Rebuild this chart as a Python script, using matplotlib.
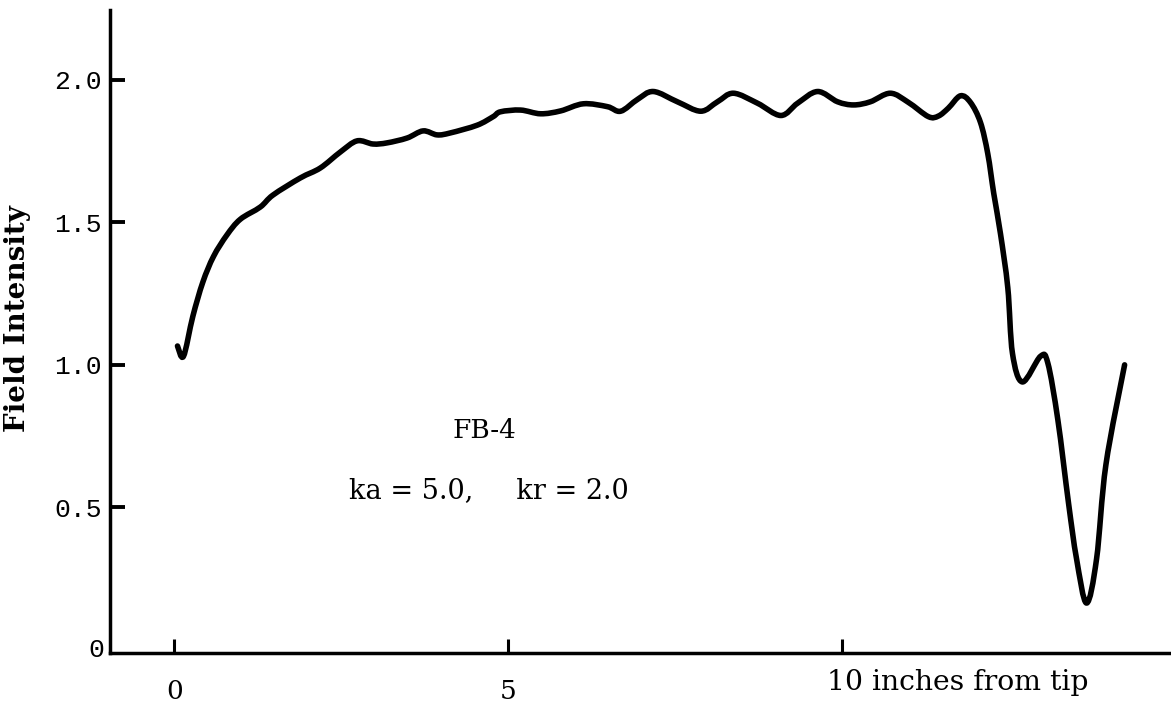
import matplotlib.pyplot as plt
from matplotlib.path import Path
from matplotlib.patches import PathPatch

# curve (inches from tip, field intensity)
dist = [0.05, 0.14, 0.28, 0.43, 0.59, 0.79, 0.99, 1.29, 1.48, 1.89, 2.19, 2.49,
        2.74, 2.98, 3.19, 3.49, 3.73, 3.94, 4.14, 4.54, 4.78, 4.89, 5.19, 5.49,
        5.79, 6.13, 6.49, 6.69, 6.94, 7.18, 7.54, 7.89, 8.14, 8.38, 8.74, 9.09,
        9.34, 9.64, 9.94, 10.18, 10.43, 10.73, 11.0, 11.3, 11.45, 11.6, 11.78,
        11.93, 12.08, 12.19, 12.28, 12.38, 12.49, 12.56, 12.71, 12.98, 13.09,
        13.24, 13.40, 13.52, 13.67, 13.82, 13.96, 14.24]
field = [1.066, 1.03, 1.17, 1.29, 1.38, 1.455, 1.51, 1.553, 1.595, 1.655, 1.69, 1.746,
         1.785, 1.774, 1.778, 1.795, 1.82, 1.806, 1.813, 1.84, 1.87, 1.887, 1.893, 1.88,
         1.89, 1.915, 1.905, 1.889, 1.93, 1.958, 1.922, 1.889, 1.922, 1.952, 1.917, 1.874,
         1.917, 1.958, 1.922, 1.911, 1.922, 1.952, 1.92, 1.87, 1.872, 1.9, 1.943,
         1.92, 1.85, 1.74, 1.60, 1.46, 1.27, 1.04, 0.94, 1.03, 1.006,
         0.807, 0.515, 0.32, 0.165, 0.32, 0.65, 1.0]

y_ticks = [0.5, 1.0, 1.5, 2.0]
y_labels = ['0.5', '1.0', '1.5', '2.0']
x_ticks = [0, 5, 10]
x_labels = ['0', '5', '']

fig = plt.figure(figsize=(11.71, 7.09), dpi=100)
ax = fig.add_axes([0.094, 0.079, 0.904, 0.907])

# hand-drawn look: bezier segments through every read point (catmull-rom style handles)
pts = list(zip(dist, field))
n = len(pts)
verts = [pts[0]]
codes = [Path.MOVETO]
for i in range(n - 1):
    p0 = pts[max(i - 1, 0)]
    p1 = pts[i]
    p2 = pts[i + 1]
    p3 = pts[min(i + 2, n - 1)]
    c1 = (p1[0] + (p2[0] - p0[0]) / 6, p1[1] + (p2[1] - p0[1]) / 6)
    c2 = (p2[0] - (p3[0] - p1[0]) / 6, p2[1] - (p3[1] - p1[1]) / 6)
    verts += [c1, c2, p2]
    codes += [Path.CURVE4] * 3
ax.add_patch(PathPatch(Path(verts, codes), facecolor='none', edgecolor='black',
                       lw=4.0, joinstyle='round', capstyle='round'))

ax.set_xlim(-0.96, 14.9)
ax.set_ylim(-0.01, 2.244)
for s in ['top', 'right']:
    ax.spines[s].set_visible(False)
for s in ['left', 'bottom']:
    ax.spines[s].set_linewidth(2.5)

ax.set_yticks(y_ticks)
ax.set_yticklabels(y_labels, family='Liberation Mono', fontsize=19)
ax.set_xticks(x_ticks)
ax.set_xticklabels(x_labels, family='DejaVu Serif', fontsize=19)
ax.tick_params(axis='y', direction='in', length=11, width=2.8, pad=6)
ax.tick_params(axis='x', direction='in', length=10, width=2.2, pad=19)

# extra labels: "0" on the y axis and the x unit text
ax.text(-1.05, 0.0, '0', family='Liberation Mono', fontsize=19, ha='right', va='center')
ax.text(9.78, -0.065, '10 inches from tip', family='DejaVu Serif', fontsize=20.3,
        ha='left', va='top', clip_on=False)

ax.set_ylabel('Field Intensity', family='DejaVu Serif', fontweight='bold', fontsize=20)
ax.yaxis.set_label_coords(-0.075, 0.52)

ax.text(4.65, 0.77, 'FB-4', family='DejaVu Serif', fontsize=19, ha='center', va='center')
ax.text(2.62, 0.56, 'ka = 5.0,     kr = 2.0', family='DejaVu Serif', fontsize=19.5,
        ha='left', va='center')

fig.savefig('out.png', dpi=100)
